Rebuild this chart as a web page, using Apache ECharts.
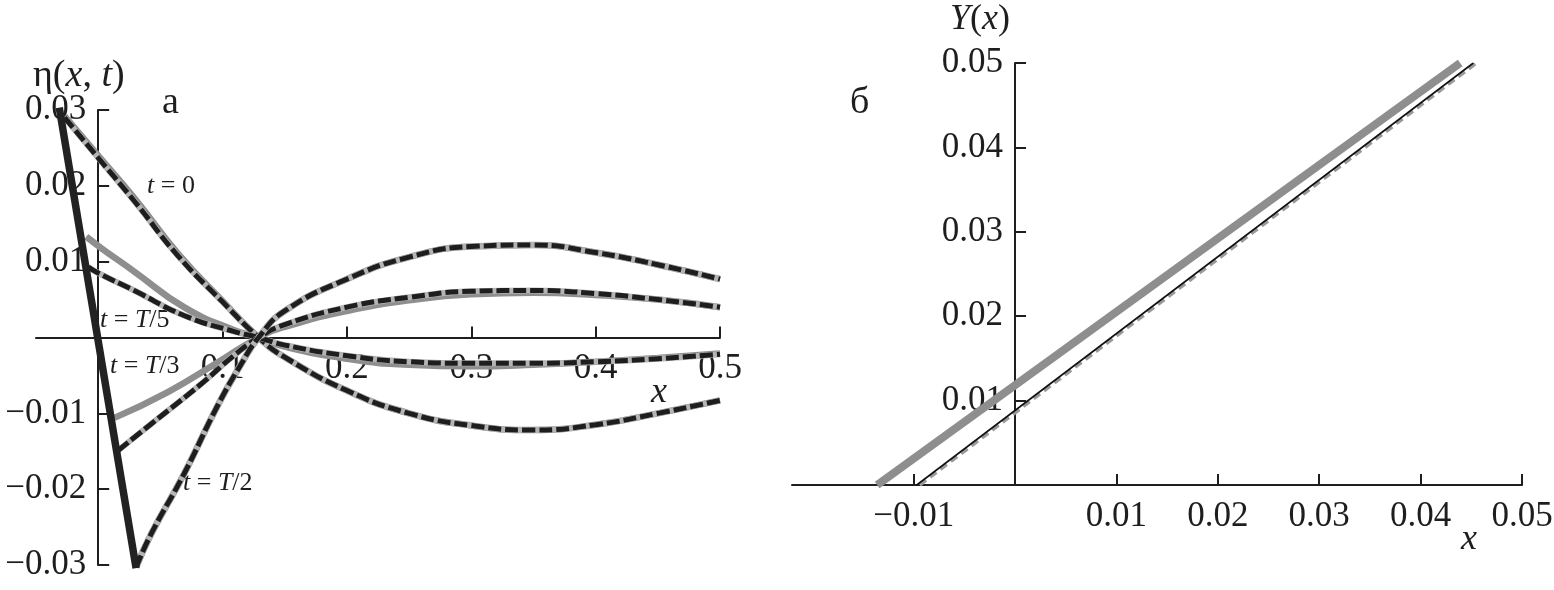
<!DOCTYPE html>
<html>
<head>
<meta charset="utf-8">
<script src="https://cdn.jsdelivr.net/npm/echarts@6/dist/echarts.min.js"></script>
<style>
html,body{margin:0;padding:0;background:#fff;}
#c{width:1554px;height:590px;}
</style>
</head>
<body>
<div id="c"></div>
<script>
// ---------- Panel a: eta(x,t) ----------
const leftXTicks = [0.1, 0.2, 0.3, 0.4, 0.5];
const leftYTicks = [-0.03, -0.02, -0.01, 0.01, 0.02, 0.03];

// t = 0
const xT0Gray = [-0.027, 0.0, 0.03, 0.064, 0.1, 0.129, 0.15, 0.2, 0.25, 0.3, 0.35, 0.4, 0.45, 0.5];
const yT0Gray = [0.0292, 0.0240, 0.0182, 0.0111, 0.0048, 0, -0.0026, -0.0070, -0.0100, -0.0116, -0.0122, -0.0115, -0.0100, -0.0083];
const xT0Dash = [-0.027, 0.0, 0.03, 0.064, 0.1, 0.129, 0.15, 0.2, 0.25, 0.3, 0.35, 0.4, 0.45, 0.5];
const yT0Dash = [0.0290, 0.0237, 0.0178, 0.0108, 0.0047, 0, -0.0026, -0.0070, -0.0100, -0.0116, -0.0122, -0.0115, -0.0100, -0.0083];

// t = T/5
const xT5Gray = [-0.0096, 0.0024, 0.029, 0.069, 0.109, 0.129, 0.15, 0.2, 0.25, 0.3, 0.35, 0.4, 0.45, 0.5];
const yT5Gray = [0.0133, 0.0118, 0.0087, 0.0040, 0.0010, 0, -0.0012, -0.0028, -0.0036, -0.0038, -0.0036, -0.0032, -0.0027, -0.0021];
const xT5Dash = [-0.008, 0.0, 0.029, 0.069, 0.109, 0.129, 0.15, 0.2, 0.25, 0.3, 0.35, 0.4, 0.45, 0.5];
const yT5Dash = [0.0093, 0.0085, 0.0062, 0.0029, 0.0008, 0, -0.0010, -0.0024, -0.0032, -0.0034, -0.0034, -0.0032, -0.0028, -0.0022];

// t = T/3
const xT3Gray = [0.013, 0.056, 0.096, 0.129, 0.15, 0.2, 0.25, 0.3, 0.35, 0.4, 0.45, 0.5];
const yT3Gray = [-0.0106, -0.0072, -0.0033, 0, 0.0014, 0.0035, 0.0049, 0.0057, 0.0059, 0.0056, 0.0050, 0.0040];
const xT3Dash = [0.016, 0.0426, 0.083, 0.109, 0.129, 0.15, 0.2, 0.25, 0.3, 0.35, 0.4, 0.45, 0.5];
const yT3Dash = [-0.0149, -0.0114, -0.0061, -0.0024, 0, 0.0017, 0.0040, 0.0053, 0.0061, 0.0062, 0.0058, 0.0050, 0.0040];

// t = T/2
const xT2Gray = [0.0305, 0.0426, 0.069, 0.096, 0.115, 0.129, 0.15, 0.2, 0.25, 0.3, 0.35, 0.4, 0.45, 0.5];
const yT2Gray = [-0.0303, -0.0259, -0.0180, -0.0090, -0.0035, 0, 0.0035, 0.0077, 0.0106, 0.0120, 0.0122, 0.0112, 0.0096, 0.0077];
const xT2Dash = [0.0305, 0.0426, 0.069, 0.096, 0.115, 0.129, 0.15, 0.2, 0.25, 0.3, 0.35, 0.4, 0.45, 0.5];
const yT2Dash = [-0.0303, -0.0259, -0.0180, -0.0090, -0.0035, 0, 0.0035, 0.0077, 0.0106, 0.0120, 0.0122, 0.0112, 0.0096, 0.0077];

// thick boundary line
const xEdge = [-0.0313, 0.0305];
const yEdge = [0.0303, -0.0304];

// ---------- Panel б: Y(x) ----------
const rightXTicks = [-0.01, 0.01, 0.02, 0.03, 0.04, 0.05];
const rightYTicks = [0.01, 0.02, 0.03, 0.04, 0.05];
const xYGray = [-0.0136, 0.0439];
const yYGray = [0, 0.05];
const xYDash = [-0.0094, 0.0455];
const yYDash = [0, 0.05];
const xYBlack = [-0.0097, 0.0452];
const yYBlack = [0, 0.05];

// axis ranges
const LX = [-0.05, 0.5], LY = [-0.03, 0.03];
const RX = [-0.022, 0.05], RY = [0, 0.05];

const FONT = '"Liberation Serif", "DejaVu Serif", serif';
const INK = '#1e1e1e';
const pairs = (xs, ys) => xs.map((x, i) => [x, ys[i]]);
const fmt = d => v => (v < 0 ? '\u2212' : '') + Math.abs(v).toFixed(d);

// grid boxes (pixels)
const G0 = { left: 36, right: 834, top: 110, bottom: 25 };
const G1 = { left: 792, right: 32, top: 63, bottom: 105 };
const W = 1554, H = 590;
const gw = g => W - g.left - g.right, gh = g => H - g.top - g.bottom;
// offsets that put each axis (line, ticks, labels) at the other axis' zero
const yOff = (g, r) => -((0 - r[0]) / (r[1] - r[0])) * gw(g);
const xOff = (g, r) => -((0 - r[0]) / (r[1] - r[0])) * gh(g);

function axis(grid, r, ticks, dec, margin, off) {
  return {
    type: 'value', gridIndex: grid, min: r[0], max: r[1], offset: off,
    axisLine: { show: true, onZero: false, lineStyle: { color: INK, width: 2 } },
    axisTick: { show: true, inside: true, length: 11, customValues: ticks, lineStyle: { color: INK, width: 2 } },
    axisLabel: { customValues: ticks, formatter: fmt(dec), fontFamily: FONT, fontSize: 35, color: INK, margin: margin },
    splitLine: { show: false }
  };
}

function line(data, color, width, type, xi, smooth) {
  return {
    type: 'line', xAxisIndex: xi, yAxisIndex: xi, data: data, symbol: 'none',
    smooth: smooth, clip: xi === 1, silent: true,
    lineStyle: { color: color, width: width, type: type, cap: 'butt' }
  };
}

const GRAY = '#8e8e8e', UNDER = '#b4b4b4', DASH = [13, 4];
const SM = 0.5;
const series = [];
[[xT0Gray, yT0Gray], [xT5Gray, yT5Gray], [xT3Gray, yT3Gray], [xT2Gray, yT2Gray]].forEach(s => {
  series.push(line(pairs(s[0], s[1]), GRAY, 6.5, 'solid', 0, SM));
});
[[xT0Dash, yT0Dash], [xT5Dash, yT5Dash], [xT3Dash, yT3Dash], [xT2Dash, yT2Dash]].forEach(s => {
  series.push(line(pairs(s[0], s[1]), UNDER, 6, 'solid', 0, SM));
  series.push(line(pairs(s[0], s[1]), INK, 5, DASH, 0, SM));
});
series.push(line(pairs(xEdge, yEdge), '#222', 7.5, 'solid', 0, false));

series.push(line(pairs(xYGray, yYGray), GRAY, 8, 'solid', 1, false));
series.push(line(pairs(xYDash, yYDash), '#9a9a9a', 3.5, [8, 5], 1, false));
series.push(line(pairs(xYBlack, yYBlack), '#111', 1.6, 'solid', 1, false));

const rich = (size) => ({
  u: { fontFamily: FONT, fontSize: size, fill: INK, color: INK },
  i: { fontFamily: FONT, fontSize: size, fontStyle: 'italic', fill: INK, color: INK }
});
function txt(x, y, text, size) {
  return { type: 'text', x: x, y: y, silent: true,
    style: { text: text, rich: rich(size), font: size + 'px ' + FONT, fill: INK, align: 'left', verticalAlign: 'middle' } };
}

const gridOpt = g => Object.assign({ containLabel: false, outerBoundsMode: 'none' }, g);

const option = {
  animation: false,
  backgroundColor: '#fff',
  grid: [gridOpt(G0), gridOpt(G1)],
  xAxis: [
    axis(0, LX, leftXTicks, 1, 14, xOff(G0, LY)),
    axis(1, RX, rightXTicks, 2, 14, 0)
  ],
  yAxis: [
    axis(0, LY, leftYTicks, 2, 12, yOff(G0, LX)),
    axis(1, RY, rightYTicks, 2, 12, yOff(G1, RX))
  ],
  series: series,
  graphic: [
    txt(33, 76, '{u|\u03b7(}{i|x}{u|, }{i|t}{u|)}', 38),
    txt(162, 103, '{u|\u0430}', 38),
    txt(147, 186, '{i|t}{u| = 0}', 26),
    txt(100, 320, '{i|t}{u| = }{i|T}{u|/5}', 26),
    txt(110, 366, '{i|t}{u| = }{i|T}{u|/3}', 26),
    txt(183, 483, '{i|t}{u| = }{i|T}{u|/2}', 26),
    txt(651, 393, '{i|x}', 36),
    txt(850, 103, '{u|\u0431}', 38),
    txt(950, 20, '{i|Y}{u|(}{i|x}{u|)}', 36),
    txt(1461, 540, '{i|x}', 36)
  ]
};
echarts.init(document.getElementById('c')).setOption(option);
</script>
</body>
</html>
